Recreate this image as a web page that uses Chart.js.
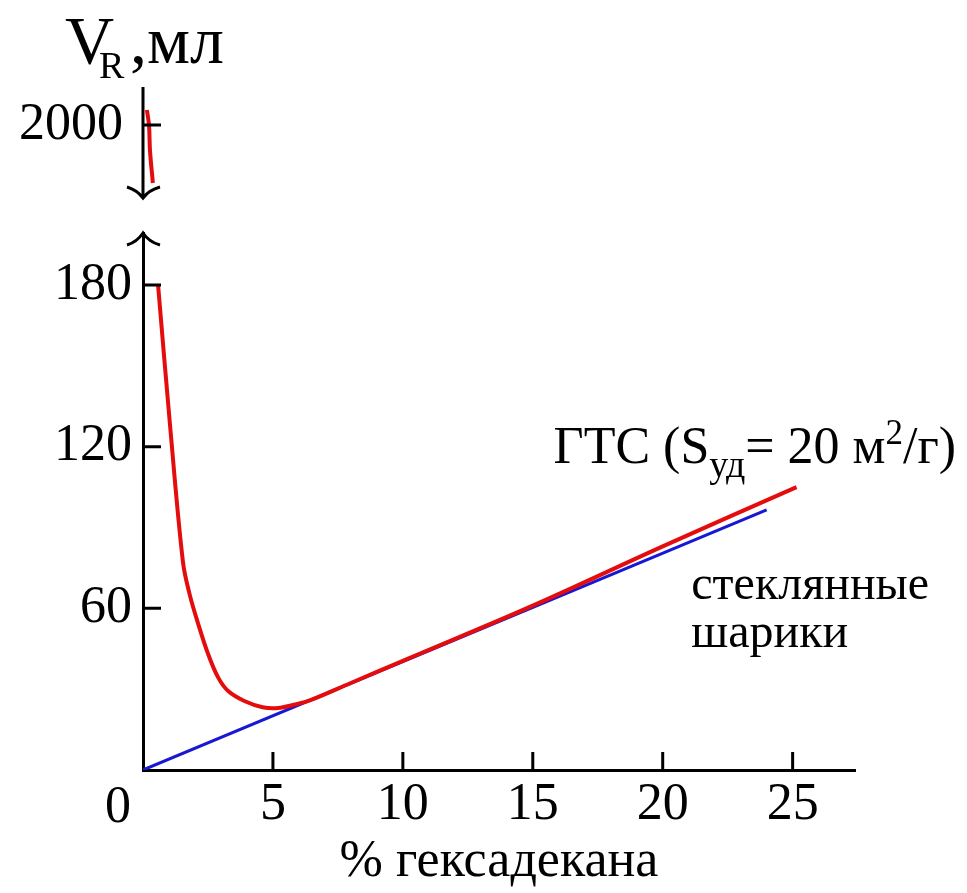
<!DOCTYPE html>
<html>
<head>
<meta charset="utf-8">
<script src="https://cdn.jsdelivr.net/npm/chart.js@4.4.1/dist/chart.umd.min.js"></script>
<style>
  html, body { margin: 0; padding: 0; background: #fff; }
  #wrap { width: 967px; height: 893px; }
</style>
</head>
<body>
<div id="wrap"><canvas id="hexChart"></canvas></div>
<script>
// tick labels
const xTicks = [5, 10, 15, 20, 25];
const yTicks = [0, 60, 120, 180];
const yTopTicks = [2000];

// red curve (ГТС), lower part of the axis
const redX = [0.58, 1.04, 1.54, 1.8, 2.1, 2.5, 2.9, 3.3, 3.9, 4.6, 5.2, 5.8, 6.42, 8.0, 10.0, 15.0, 20.0, 25.15];
const redY = [180, 128, 77, 65, 55, 43.2, 34.2, 29.1, 25.6, 23.3, 23.0, 24.2, 25.8, 32.3, 40.5, 61, 83, 105];
// red curve, part above the axis break
const redTopX = [0.15, 0.23, 0.27, 0.38];
const redTopY = [2075, 2000, 1870, 1710];
// blue line (стеклянные шарики)
const blueX = [0, 24];
const blueY = [0, 96.5];

const serif = '"Liberation Serif", "Times New Roman", serif';

function pts(xs, ys) {
  return xs.map((x, i) => ({x: x, y: ys[i]}));
}

// draws the inward ticks, the broken axis with arrows and the free texts
const breakAxis = {
  id: 'breakAxis',
  afterDraw(chart) {
    const ctx = chart.ctx;
    const xs = chart.scales.x, ys = chart.scales.y, ys2 = chart.scales.y2;
    const x0 = xs.getPixelForValue(0);
    ctx.save();
    ctx.strokeStyle = '#000';
    ctx.lineWidth = 3;
    ctx.lineCap = 'butt';

    // inward tick marks
    ctx.beginPath();
    xTicks.forEach(v => {
      const px = xs.getPixelForValue(v);
      ctx.moveTo(px, xs.top);
      ctx.lineTo(px, xs.top - 18);
    });
    yTicks.filter(v => v > 0).forEach(v => {
      const py = ys.getPixelForValue(v);
      ctx.moveTo(x0, py);
      ctx.lineTo(x0 + 18, py);
    });
    yTopTicks.forEach(v => {
      const py = ys2.getPixelForValue(v);
      ctx.moveTo(x0, py);
      ctx.lineTo(x0 + 18, py);
    });
    ctx.stroke();

    // upper piece of the y axis, ending in a down arrow
    const tipDown = ys.top - 35;
    ctx.beginPath();
    ctx.moveTo(x0, ys2.top);
    ctx.lineTo(x0, tipDown);
    ctx.moveTo(x0 - 16, tipDown - 11);
    ctx.quadraticCurveTo(x0 - 6, tipDown - 8, x0, tipDown);
    ctx.quadraticCurveTo(x0 + 6, tipDown - 8, x0 + 17, tipDown - 11);
    ctx.stroke();

    // up arrow on top of the lower y axis
    const tipUp = ys.top;
    ctx.beginPath();
    ctx.moveTo(x0 - 16, tipUp + 12);
    ctx.quadraticCurveTo(x0 - 6, tipUp + 9, x0, tipUp);
    ctx.quadraticCurveTo(x0 + 6, tipUp + 9, x0 + 17, tipUp + 12);
    ctx.stroke();

    ctx.fillStyle = '#000';
    ctx.textBaseline = 'alphabetic';
    ctx.textAlign = 'left';

    // origin label
    ctx.font = '52px ' + serif;
    ctx.fillText('0', x0 - 38, 822);

    // y axis title V_R, мл
    ctx.font = '68px ' + serif;
    ctx.fillText('V', 65, 63);
    ctx.font = '38px ' + serif;
    ctx.fillText('R', 99, 78);
    ctx.font = '68px ' + serif;
    ctx.fillText(',', 130, 63);
    ctx.fillText('мл', 147, 63);

    // ГТС (Sуд = 20 м²/г)
    const parts = [
      ['ГТС (S', 52, 0],
      ['уд', 38, 14],
      ['= 20 м', 52, 0],
      ['2', 35, -19],
      ['/г)', 52, 0]
    ];
    let tx = xs.getPixelForValue(15.8);
    const ty = ys.getPixelForValue(114);
    parts.forEach(p => {
      ctx.font = p[1] + 'px ' + serif;
      ctx.fillText(p[0], tx, ty + p[2]);
      tx += ctx.measureText(p[0]).width;
    });

    // стеклянные шарики
    ctx.font = '48px ' + serif;
    const lx = xs.getPixelForValue(21.1);
    ctx.fillText('стеклянные', lx, ys.getPixelForValue(63.5));
    ctx.fillText('шарики', lx, ys.getPixelForValue(45.5));
    ctx.restore();
  }
};

const hexConfig = {
  type: 'scatter',
  data: {
    datasets: [
      {
        label: 'ГТС',
        data: pts(redX, redY),
        yAxisID: 'y',
        showLine: true,
        borderColor: 'rgb(228, 12, 12)',
        borderWidth: 4,
        pointRadius: 0,
        tension: 0.35,
        fill: false
      },
      {
        label: 'ГТС (верх)',
        data: pts(redTopX, redTopY),
        yAxisID: 'y2',
        showLine: true,
        borderColor: 'rgb(228, 12, 12)',
        borderWidth: 4,
        pointRadius: 0,
        tension: 0.35,
        fill: false
      },
      {
        label: 'стеклянные шарики',
        data: pts(blueX, blueY),
        yAxisID: 'y',
        showLine: true,
        borderColor: 'rgb(24, 24, 210)',
        borderWidth: 3,
        pointRadius: 0,
        fill: false
      }
    ]
  },
  options: {
    responsive: true,
    maintainAspectRatio: false,
    animation: false,
    events: [],
    layout: {
      padding: {top: 87, right: 112, left: 0, bottom: 0}
    },
    plugins: {
      legend: {display: false},
      tooltip: {enabled: false}
    },
    scales: {
      x: {
        type: 'linear',
        position: 'bottom',
        min: 0,
        max: 27.4,
        afterBuildTicks: s => { s.ticks = xTicks.map(v => ({value: v})); },
        afterFit: s => { s.height = 123; },
        grid: {display: false, drawTicks: false},
        border: {display: true, color: '#000', width: 3},
        ticks: {
          color: '#000',
          padding: 9,
          maxRotation: 0,
          callback: v => String(v),
          font: {family: serif, size: 52, lineHeight: 1}
        },
        title: {
          display: true,
          text: '% гексадекана',
          color: '#000',
          padding: {top: 0, bottom: 5},
          font: {family: serif, size: 52, lineHeight: 1}
        }
      },
      y: {
        type: 'linear',
        position: 'left',
        stack: 'vr',
        stackWeight: 537,
        min: 0,
        max: 199.3,
        afterBuildTicks: s => { s.ticks = yTicks.filter(v => v > 0).map(v => ({value: v})); },
        afterFit: s => { s.width = 143; },
        grid: {display: false, drawTicks: false},
        border: {display: true, color: '#000', width: 3},
        ticks: {
          color: '#000',
          padding: 11,
          callback: v => String(v),
          font: {family: serif, size: 52, lineHeight: 1}
        }
      },
      y2: {
        type: 'linear',
        position: 'left',
        stack: 'vr',
        stackWeight: 146,
        min: 1460,
        max: 2190,
        afterBuildTicks: s => { s.ticks = yTopTicks.map(v => ({value: v})); },
        afterFit: s => { s.width = 143; },
        grid: {display: false, drawTicks: false},
        border: {display: false},
        ticks: {
          color: '#000',
          padding: 20,
          callback: v => String(v),
          font: {family: serif, size: 52, lineHeight: 1}
        }
      }
    }
  },
  plugins: [breakAxis]
};

const hexChart = new Chart(document.getElementById('hexChart'), hexConfig);
</script>
</body>
</html>
